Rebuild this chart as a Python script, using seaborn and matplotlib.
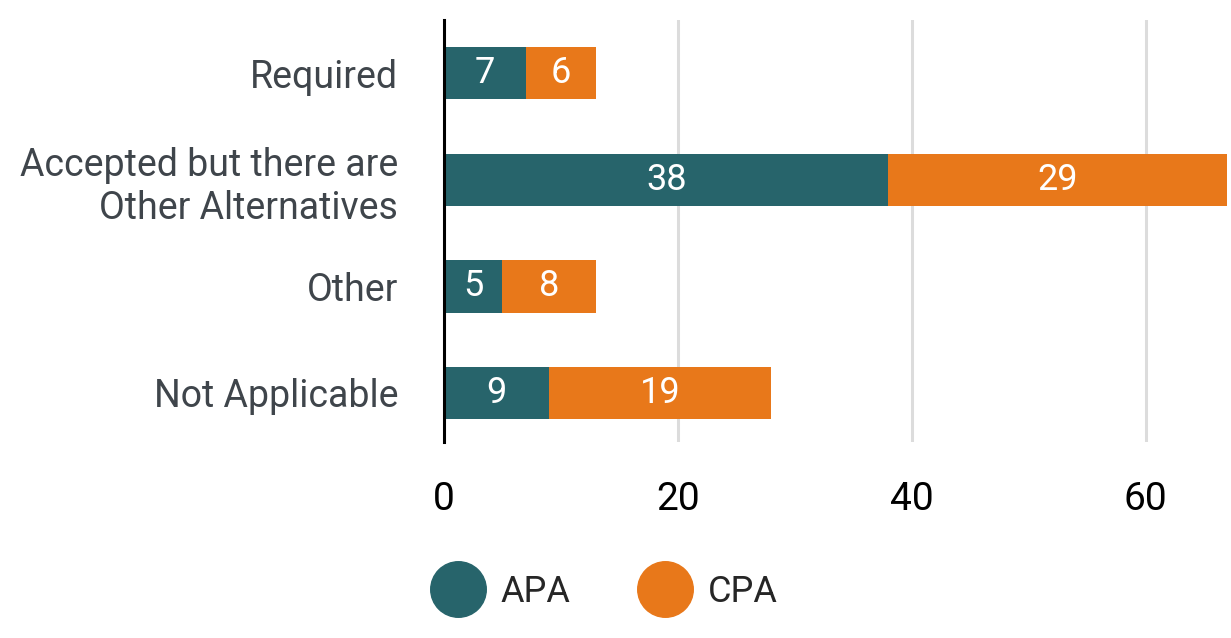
import pandas as pd
import numpy as np
import matplotlib.pyplot as plt
import seaborn as sns
from matplotlib.lines import Line2D

# Dados
categorias = ["Required", "Accepted but there are\nOther Alternatives", "Other", "Not Applicable"]
apa = [7, 38, 5, 9]
cpa = [6, 29, 8, 19]

COR_APA = "#27646b"
COR_CPA = "#e8781a"

df = pd.DataFrame({"categoria": categorias, "APA": apa, "CPA": cpa})
df["total"] = df["APA"] + df["CPA"]

sns.set_theme(style="white")
plt.rcParams["font.family"] = ["Roboto", "DejaVu Sans"]

fig = plt.figure(figsize=(12.31, 6.38), dpi=100)
ax = fig.add_axes([0.3607, 0.3072, 0.6393, 0.6615])

# Barras empilhadas: total (CPA) por baixo, APA por cima
sns.barplot(data=df, y="categoria", x="total", color=COR_CPA, width=0.49,
            saturation=1, orient="h", ax=ax, zorder=3, linewidth=0)
sns.barplot(data=df, y="categoria", x="APA", color=COR_APA, width=0.49,
            saturation=1, orient="h", ax=ax, zorder=4, linewidth=0)

# Rótulos nas barras
for i, (a, c) in enumerate(zip(df["APA"], df["CPA"])):
    ax.text(a / 2, i, str(a), ha="center", va="center", color="white", fontsize=26, zorder=5)
    ax.text(a + c / 2, i, str(c), ha="center", va="center", color="white", fontsize=26, zorder=5)

ax.set_xlim(0, 67.3)
ax.set_ylim(3.46, -0.5)
ax.set_xticks([0, 20, 40, 60])
ax.xaxis.grid(True, color="#dcdcdc", linewidth=2.2, zorder=0)
ax.set_axisbelow(True)
ax.set_xlabel("")
ax.set_ylabel("")

for s in ["top", "right", "bottom"]:
    ax.spines[s].set_visible(False)
ax.spines["left"].set_color("black")
ax.spines["left"].set_linewidth(2.2)
ax.spines["left"].set_zorder(6)

ax.tick_params(axis="x", length=0, pad=28, labelsize=28, labelcolor="black")
ax.tick_params(axis="y", length=0, pad=33, labelsize=27, labelcolor="#3f454b")

# Legenda
handles = [
    Line2D([0], [0], marker="o", color="none", markerfacecolor=COR_APA, markeredgecolor=COR_APA, markersize=40),
    Line2D([0], [0], marker="o", color="none", markerfacecolor=COR_CPA, markeredgecolor=COR_CPA, markersize=40),
]
fig.legend(handles, ["APA", "CPA"], loc="center", bbox_to_anchor=(0.493, 0.072), ncol=2,
           frameon=False, fontsize=26, handlelength=1.2, handletextpad=0.6, columnspacing=2.0)

fig.savefig("out.png", dpi=100)
